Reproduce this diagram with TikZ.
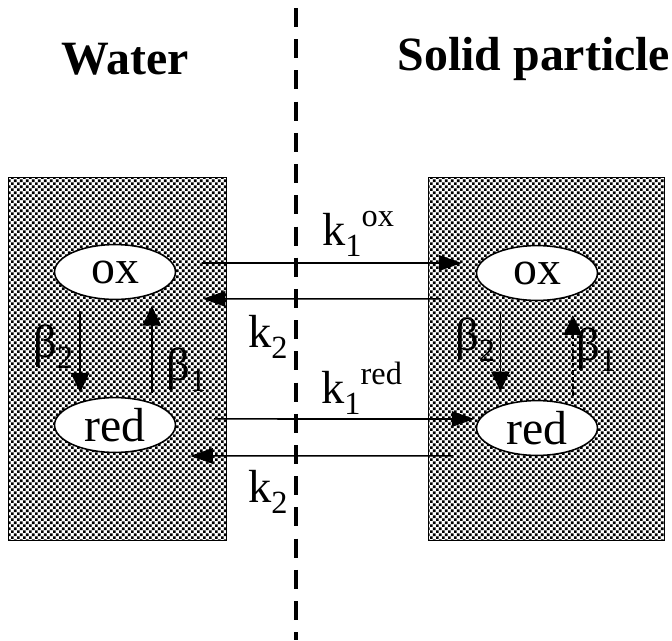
\documentclass[tikz,border=0pt]{standalone}
\usepackage{fontspec}
\setmainfont{Liberation Serif}
\usepackage{tikz}
\usetikzlibrary{shapes.geometric,arrows.meta,patterns}

\pgfdeclarepatternformonly{stipple}{\pgfpointorigin}{\pgfqpoint{4.25pt}{4.25pt}}{\pgfqpoint{4.25pt}{4.25pt}}{%
  \pgfpathrectangle{\pgfqpoint{0pt}{0pt}}{\pgfqpoint{1.85pt}{1.85pt}}%
  \pgfpathrectangle{\pgfqpoint{2.125pt}{2.125pt}}{\pgfqpoint{1.85pt}{1.85pt}}%
  \pgfusepath{fill}}

\newcommand{\lowidx}[1]{\raisebox{-0.55ex}{\fontsize{23}{23}\selectfont #1}}
\newcommand{\highidx}[1]{\raisebox{0.85ex}{\fontsize{23}{23}\selectfont #1}}

\begin{document}
\begin{tikzpicture}[x=0.025cm, y=-0.025cm,
  phase/.style={rectangle, draw, line width=1.1pt, pattern=stipple, inner sep=0pt},
  species/.style={ellipse, draw, line width=1.1pt, fill=white, minimum width=86pt, minimum height=39pt, inner sep=0pt, font=\fontsize{34}{40}\selectfont},
  rate/.style={anchor=base west, inner sep=0pt, font=\fontsize{33}{40}\selectfont},
  title/.style={inner sep=0pt, font=\bfseries\fontsize{34}{40}\selectfont},
  line/.style={draw, line width=1.1pt, -{Triangle[length=16pt,width=11pt]}},
  vline/.style={draw, line width=1.1pt, -{Triangle[length=14pt,width=13pt]}}]

  \useasboundingbox (0,0) rectangle (672,640);

  % Interface
  \coordinate (itop) at (296,8);
  \coordinate (ibot) at (296,640);
  \draw [line width=3.3pt, dash pattern=on 13.5pt off 8.7pt] (itop) -- (ibot);

  % Nodes
  \node [title] (water) at (125,59) {Water};
  \node [title] (solid) at (534,59) {Solid particle};

  \node [phase, minimum width=155.3pt, minimum height=258pt] (waterbox) at (117.5,359) {};
  \node [phase, minimum width=168pt, minimum height=258pt] (solidbox) at (546.5,359) {};

  \node [species] (oxw) at (115,272) {ox};
  \node [species] (redw) at (115,425) {red};
  \node [species] (oxs) at (537,273) {ox};
  \node [species] (reds) at (537,428) {red};

  % Edges
  \path [line, shorten <=18pt, shorten >=10pt] ([yshift=6.4pt]oxw.east) -- ([yshift=7.1pt]oxs.west);
  \path [line, shorten <=25pt, shorten >=19pt] ([yshift=-18.4pt]oxs.west) -- ([yshift=-19.1pt]oxw.east);
  \path [line, shorten <=27pt, shorten >=1pt] ([yshift=4.3pt]redw.east) -- ([yshift=6.4pt]reds.west);
  \path [line, shorten <=16pt, shorten >=10pt] ([yshift=-19.8pt]reds.west) -- ([yshift=-22pt]redw.east);

  \path [vline, shorten <=8pt, shorten >=3pt] ([xshift=-24.8pt]oxw.south) -- ([xshift=-24.8pt]redw.north);
  \path [vline, shorten <=3pt, shorten >=4pt] ([xshift=26.2pt]redw.north) -- ([xshift=26.2pt]oxw.south);
  \path [vline, shorten <=8pt, shorten >=6pt] ([xshift=-26pt]oxs.south) -- ([xshift=-26pt]reds.north);
  \path [vline, densely dashed, shorten <=3pt, shorten >=10pt] ([xshift=25.5pt]reds.north) -- ([xshift=25.5pt]oxs.south);

  % Labels
  \node [rate] (k1ox) at (322,245) {k\lowidx{1}\highidx{ox}};
  \node [rate] (k2ox) at (248,347) {k\lowidx{2}};
  \node [rate] (k1red) at (321,403) {k\lowidx{1}\highidx{red}};
  \node [rate] (k2red) at (248,502) {k\lowidx{2}};

  \node [rate] (b2w) at (33,357) {β\lowidx{2}};
  \node [rate] (b1w) at (166,380) {β\lowidx{1}};
  \node [rate] (b2s) at (455,350) {β\lowidx{2}};
  \node [rate] (b1s) at (576,360) {β\lowidx{1}};

\end{tikzpicture}
\end{document}
